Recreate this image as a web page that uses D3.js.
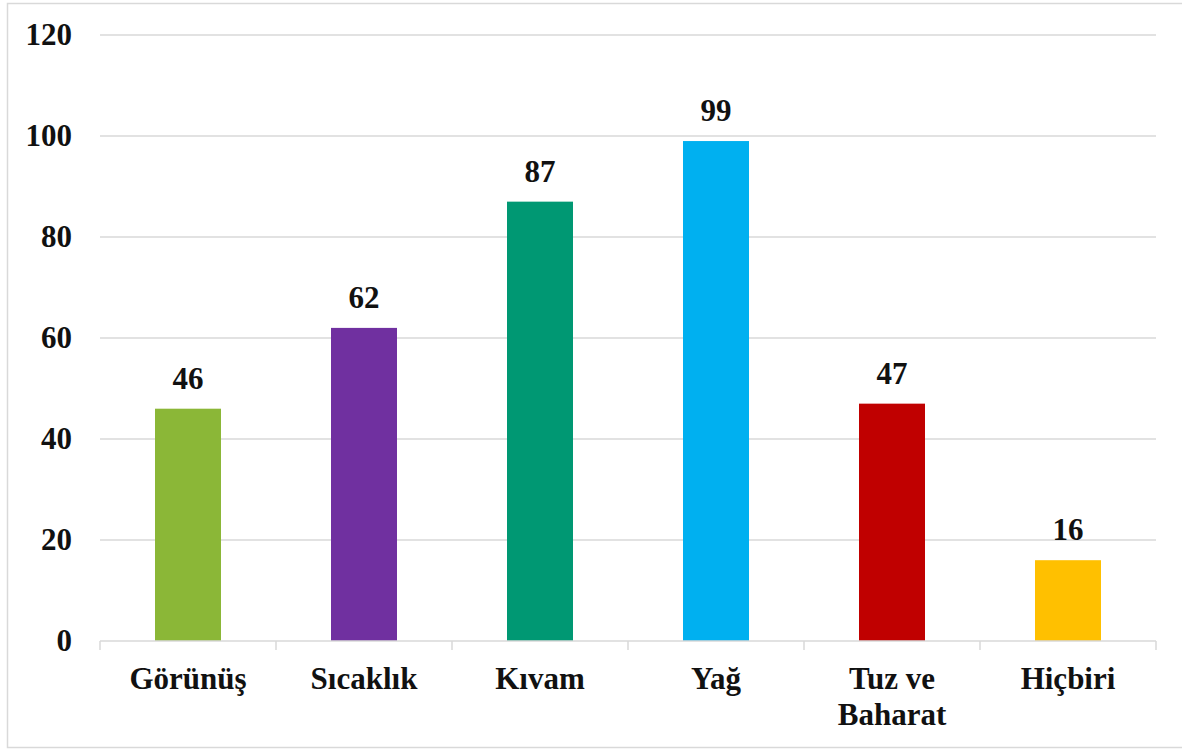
<!DOCTYPE html>
<html>
<head>
<meta charset="utf-8">
<script src="https://cdn.jsdelivr.net/npm/d3@7"></script>
<style>
  body { margin: 0; background: #fff; }
  svg { display: block; }
</style>
</head>
<body>
<svg id="chart" width="1182" height="749"></svg>
<script>
const categories = [["Görünüş"], ["Sıcaklık"], ["Kıvam"], ["Yağ"], ["Tuz ve", "Baharat"], ["Hiçbiri"]];
const values = [46, 62, 87, 99, 47, 16];
const colors = ["#8BB737", "#7030A0", "#009873", "#00B0F0", "#C00000", "#FFC000"];
const yTicks = [0, 20, 40, 60, 80, 100, 120];

(function () {
const svg = d3.select("#chart");
const font = "'Liberation Serif', 'Times New Roman', serif";

// outer border
svg.append("rect").attr("x", 7.5).attr("y", 3.5).attr("width", 1200).attr("height", 744)
  .attr("fill", "none").attr("stroke", "#d9d9d9").attr("stroke-width", 1.5);

const mLeft = 100, mRight = 1156, mTop = 35, mBottom = 641;
const keys = categories.map(c => c.join(" "));
const x = d3.scaleBand().domain(keys).range([mLeft, mRight]).paddingInner(0.625).paddingOuter(0.3125);
const y = d3.scaleLinear().domain([0, 120]).range([mBottom, mTop]);

// gridlines
svg.append("g").selectAll("line").data(yTicks.filter(t => t > 0)).join("line")
  .attr("x1", mLeft).attr("x2", mRight)
  .attr("y1", d => y(d)).attr("y2", d => y(d))
  .attr("stroke", "#d9d9d9").attr("stroke-width", 1.5);

// y labels
svg.append("g").selectAll("text").data(yTicks).join("text")
  .attr("x", 72).attr("y", d => y(d)).attr("dy", "0.33em")
  .attr("text-anchor", "end")
  .style("font-family", font).style("font-weight", "bold").style("font-size", "31px")
  .attr("fill", "#111")
  .text(d => d);

// bars
svg.append("g").selectAll("rect").data(values).join("rect")
  .attr("x", (d, i) => x(keys[i])).attr("width", x.bandwidth())
  .attr("y", d => y(d)).attr("height", d => y(0) - y(d))
  .attr("fill", (d, i) => colors[i]);

// x axis
svg.append("line").attr("x1", mLeft).attr("x2", mRight).attr("y1", mBottom).attr("y2", mBottom)
  .attr("stroke", "#d9d9d9").attr("stroke-width", 1.5);
const step = x.step();
const bounds = d3.range(keys.length + 1).map(i => mLeft + i * step);
svg.append("g").selectAll("line").data(bounds).join("line")
  .attr("x1", d => d).attr("x2", d => d).attr("y1", mBottom).attr("y2", mBottom + 9)
  .attr("stroke", "#d9d9d9").attr("stroke-width", 1.5);

// category labels
const cl = svg.append("g").selectAll("text").data(categories).join("text")
  .attr("x", (d, i) => x(keys[i]) + x.bandwidth() / 2)
  .attr("y", 689)
  .attr("text-anchor", "middle")
  .style("font-family", font).style("font-weight", "bold").style("font-size", "31px")
  .attr("fill", "#111");
cl.selectAll("tspan").data(d => d).join("tspan")
  .attr("x", function () { return this.parentNode.getAttribute("x"); })
  .attr("dy", (d, i) => i === 0 ? 0 : 36)
  .text(d => d);

// value labels
svg.append("g").selectAll("text").data(values).join("text")
  .attr("x", (d, i) => x(keys[i]) + x.bandwidth() / 2)
  .attr("y", d => y(d) - 20)
  .attr("text-anchor", "middle")
  .style("font-family", font).style("font-weight", "bold").style("font-size", "31px")
  .attr("fill", "#111")
  .text(d => d);
})();
</script>
</body>
</html>
